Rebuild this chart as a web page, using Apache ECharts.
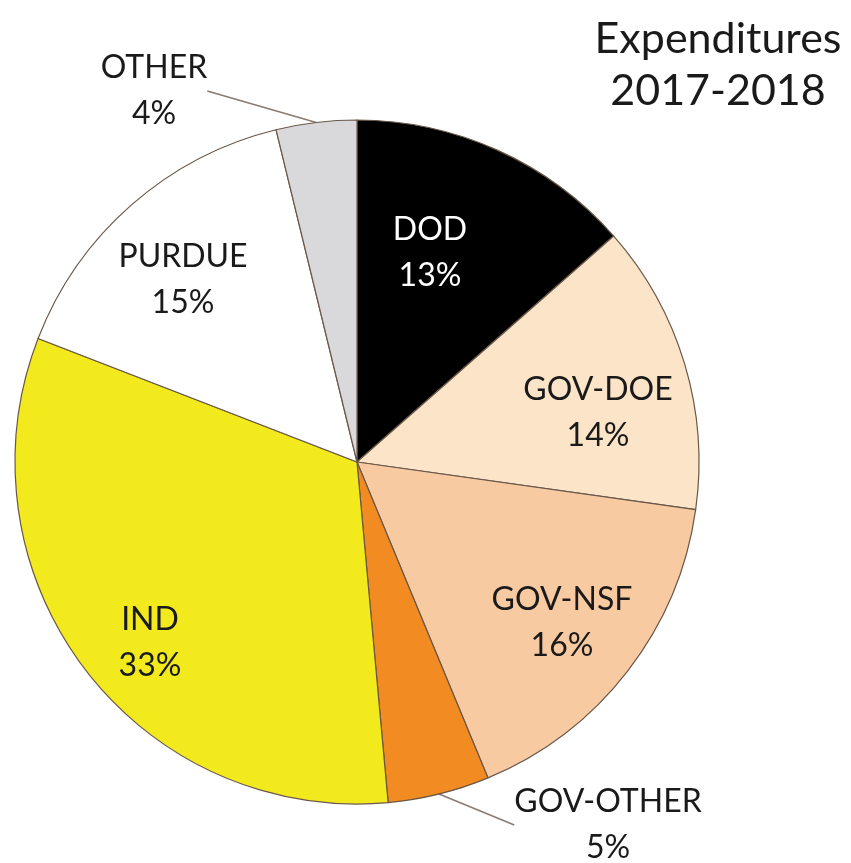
<!DOCTYPE html>
<html>
<head>
<meta charset="utf-8">
<script src="https://cdn.jsdelivr.net/npm/echarts@6/dist/echarts.min.js"></script>
<style>
html,body{margin:0;padding:0;background:#fff;}
#chart{width:851px;height:863px;}
</style>
</head>
<body>
<div id="chart"></div>
<script>
const categories = ['DOD', 'GOV-DOE', 'GOV-NSF', 'GOV-OTHER', 'IND', 'PURDUE', 'OTHER'];
const shares = [13.5, 13.7, 16.5, 4.8, 32.3, 15.3, 3.8];
const pctLabels = ['13%', '14%', '16%', '5%', '33%', '15%', '4%'];
const titleText = 'Expenditures\n2017-2018';

const colors = ['#000000', '#fbe4c8', '#f8caa2', '#f28b22', '#f2ea1c', '#ffffff', '#d9d9dc'];
const textColors = ['#ffffff', '#1a1a1a', '#1a1a1a', '#1a1a1a', '#1a1a1a', '#1a1a1a', '#1a1a1a'];
const outsideSet = { 'GOV-OTHER': true, 'OTHER': true };
const labelPos = {
  'DOD': [430, 253],
  'GOV-DOE': [598, 413],
  'GOV-NSF': [562, 623],
  'GOV-OTHER': [608, 825],
  'IND': [150, 643],
  'PURDUE': [183, 280],
  'OTHER': [154, 91]
};

const chart = echarts.init(document.getElementById('chart'), null, { renderer: 'canvas' });

const data = categories.map((name, i) => ({
  name: name,
  value: shares[i],
  pct: pctLabels[i],
  itemStyle: { color: colors[i] },
  label: {
    color: textColors[i],
    position: outsideSet[name] ? 'outside' : 'inside'
  },
  labelLine: { show: !!outsideSet[name] }
}));

chart.setOption({
  animation: false,
  backgroundColor: '#ffffff',
  title: {
    text: titleText,
    left: 713,
    top: 8,
    textAlign: 'center',
    textStyle: {
      fontFamily: 'Lato',
      fontWeight: 'normal',
      fontSize: 43,
      lineHeight: 52,
      color: '#1a1a1a'
    }
  },
  series: [{
    type: 'pie',
    center: [357, 462],
    radius: [0, 342],
    startAngle: 90,
    clockwise: true,
    avoidLabelOverlap: false,
    data: data,
    itemStyle: {
      borderColor: '#6a5748',
      borderWidth: 1.2
    },
    label: {
      show: true,
      fontFamily: 'Lato',
      fontSize: 32,
      lineHeight: 46,
      formatter: p => p.name + '\n' + p.data.pct
    },
    labelLine: {
      length: 15,
      length2: 0,
      smooth: false,
      lineStyle: { color: '#8a7b70', width: 1.5 }
    },
    labelLayout: function (params) {
      const name = categories[params.dataIndex];
      const p = labelPos[name];
      return { x: p[0], y: p[1], align: 'center', verticalAlign: 'middle' };
    }
  }]
});
</script>
</body>
</html>
